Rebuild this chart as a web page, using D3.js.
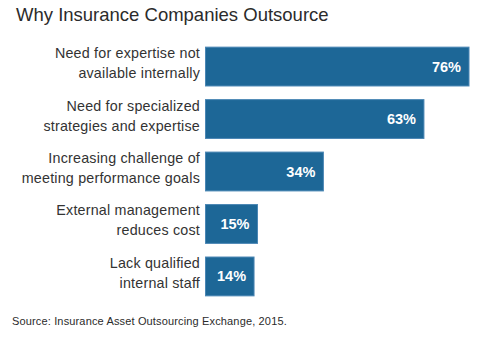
<!DOCTYPE html>
<html><head><meta charset="utf-8">
<script src="https://cdn.jsdelivr.net/npm/d3@7"></script>
<style>body{margin:0;background:#fff;}svg{display:block;}</style>
</head><body>
<script>
const categories = [
  ["Need for expertise not", "available internally"],
  ["Need for specialized", "strategies and expertise"],
  ["Increasing challenge of", "meeting performance goals"],
  ["External management", "reduces cost"],
  ["Lack qualified", "internal staff"]
];
const values = [76, 63, 34, 15, 14];
const title = "Why Insurance Companies Outsource";
const source = "Source: Insurance Asset Outsourcing Exchange, 2015.";

const W = 480, H = 341;
const svg = d3.select("body").append("svg").attr("width", W).attr("height", H);
const font = "'Liberation Sans', Arial, Helvetica, sans-serif";

const x = d3.scaleLinear().domain([0, 76]).range([205.5, 469]);
const y = d3.scaleBand().domain(d3.range(values.length)).range([33.5, 309.5]).padding(0.26);

svg.append("text").attr("x", 16).attr("y", 21).attr("font-family", font)
  .attr("font-size", 18.5).attr("fill", "#2b2b2b").text(title);

const g = svg.append("g");
g.selectAll("rect").data(values).join("rect")
  .attr("x", x(0)).attr("y", (d, i) => y(i))
  .attr("width", d => x(d) - x(0)).attr("height", y.bandwidth())
  .attr("fill", "#1d6797").attr("stroke", "#4a86b4").attr("stroke-width", 1);

g.selectAll("text.val").data(values).join("text").attr("class", "val")
  .attr("x", d => x(d) - 8).attr("y", (d, i) => y(i) + y.bandwidth() / 2 + 5)
  .attr("text-anchor", "end").attr("font-family", font).attr("font-weight", "bold")
  .attr("font-size", 14.5).attr("fill", "#fff").text(d => d + "%");

const labs = g.selectAll("text.lab").data(categories).join("text").attr("class", "lab")
  .attr("text-anchor", "end").attr("font-family", font).attr("font-size", 14.3)
  .attr("letter-spacing", 0.2).attr("fill", "#333");
labs.each(function(d, i) {
  const t = d3.select(this);
  d.forEach((line, j) => {
    t.append("tspan").attr("x", 200).attr("y", y(i) + y.bandwidth() / 2 - 8.5 + j * 20).text(line);
  });
});

svg.append("text").attr("x", 12).attr("y", 325).attr("font-family", font)
  .attr("font-size", 11).attr("fill", "#2b2b2b").attr("letter-spacing", 0.15).text(source);
</script>
</body></html>
